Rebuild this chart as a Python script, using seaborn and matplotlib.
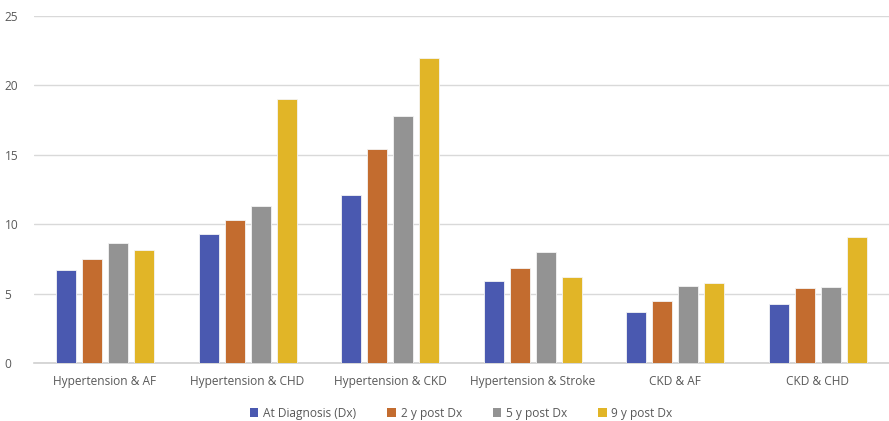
import matplotlib
matplotlib.use("Agg")
import matplotlib.pyplot as plt
import seaborn as sns
import pandas as pd
from matplotlib.patches import Patch

categories = ["Hypertension & AF", "Hypertension & CHD", "Hypertension & CKD",
              "Hypertension & Stroke", "CKD & AF", "CKD & CHD"]
series_names = ["At Diagnosis (Dx)", "2 y post Dx", "5 y post Dx", "9 y post Dx"]
at_dx = [6.7, 9.3, 12.1, 5.9, 3.7, 4.3]
post2 = [7.5, 10.3, 15.4, 6.9, 4.5, 5.4]
post5 = [8.7, 11.3, 17.8, 8.0, 5.6, 5.5]
post9 = [8.2, 19.0, 22.0, 6.2, 5.8, 9.1]
y_ticks = [0, 5, 10, 15, 20, 25]

colors = ["#4A59B0", "#C36C2F", "#939393", "#E1B527"]

rows = []
for name, vals in zip(series_names, [at_dx, post2, post5, post9]):
    for c, v in zip(categories, vals):
        rows.append({"category": c, "series": name, "value": v})
df = pd.DataFrame(rows)

sns.set_theme(style="white")
plt.rcParams["font.family"] = ["Open Sans", "DejaVu Sans"]

fig = plt.figure(figsize=(8.89, 4.21), dpi=100)
ax = fig.add_axes([0.038, 0.1366, 0.962, 0.8254])

sns.barplot(data=df, x="category", y="value", hue="series", order=categories,
            hue_order=series_names, palette=colors, saturation=1, width=0.73, gap=0.23,
            edgecolor="#f4f4f4", linewidth=0.6, legend=False, ax=ax, zorder=3)

ax.set_ylim(0, 25)
ax.set_xlim(-0.5, len(categories) - 0.5)
ax.set_yticks(y_ticks)
ax.set_yticklabels([str(t) for t in y_ticks])
ax.yaxis.grid(True, color="#D9D9D9", linewidth=1.0, zorder=0)
ax.set_axisbelow(True)
for s in ["top", "right", "left"]:
    ax.spines[s].set_visible(False)
ax.spines["bottom"].set_color("#D0D0D0")
ax.spines["bottom"].set_linewidth(1.2)
ax.set_xlabel("")
ax.set_ylabel("")
ax.tick_params(axis="both", length=0, labelsize=8.6, labelcolor="#595959")
ax.tick_params(axis="x", pad=8)
for lbl in ax.get_yticklabels():
    lbl.set_horizontalalignment("left")
ax.yaxis.set_tick_params(pad=21)

handles = [Patch(facecolor=c, edgecolor="none") for c in colors]
fig.legend(handles, series_names, loc="center", bbox_to_anchor=(0.519, 0.019),
           ncol=4, frameon=False, fontsize=8.6, labelcolor="#595959",
           handlelength=0.7, handleheight=0.7, handletextpad=0.4,
           columnspacing=2.6)

fig.savefig("out.png", dpi=100)
